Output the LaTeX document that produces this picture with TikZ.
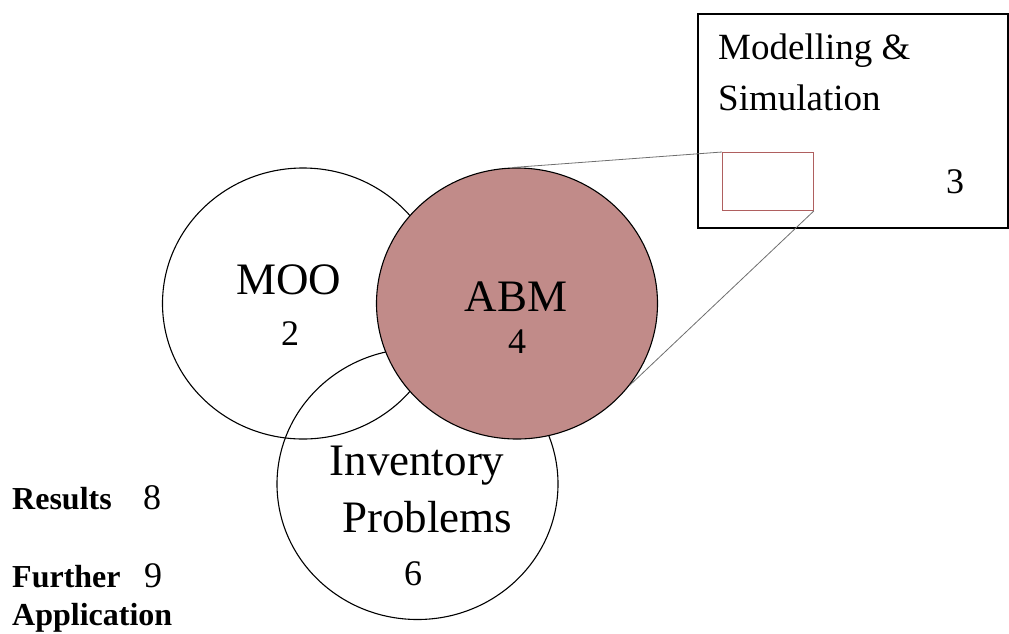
\documentclass[tikz,border=0pt]{standalone}
\usepackage{fontspec}
\setmainfont{Liberation Serif}
\usetikzlibrary{shapes.geometric}
\definecolor{abmfill}{RGB}{193,139,137}
\definecolor{zoomred}{RGB}{175,95,95}
\definecolor{zoomgray}{RGB}{110,110,110}
\tikzset{
  venn/.style={draw=black, ellipse, inner sep=0pt, minimum width=281pt, minimum height=271pt, line width=1.1pt},
  big/.style={font=\fontsize{45}{50}\selectfont, anchor=base, inner sep=0pt},
  num/.style={font=\fontsize{36}{40}\selectfont, anchor=base, inner sep=0pt},
  boxtxt/.style={font=\fontsize{37}{42}\selectfont, anchor=base west, inner sep=0pt},
  side/.style={font=\fontsize{32}{36}\selectfont\bfseries, anchor=base west, inner sep=0pt},
  zoomline/.style={draw=zoomgray, line width=0.8pt}
}
\begin{document}
\begin{tikzpicture}[x=1pt,y=-1pt]
\useasboundingbox (0,0) rectangle (1009,633);
% Modelling & Simulation box
\node[draw=black, line width=2pt, minimum width=310pt, minimum height=214pt, inner sep=0pt, anchor=north west] (ms) at (697,13) {};
\node[boxtxt] (mstxt1) at (718,59) {Modelling \&};
\node[boxtxt] (mstxt2) at (718,110) {Simulation};
\node[num, anchor=base] (msnum) at (955,193) {3};
\node[draw=zoomred, line width=0.9pt, minimum width=91pt, minimum height=58pt, inner sep=0pt, anchor=north west] (zr) at (722,152) {};
% Venn circles
\node[venn] (moo) at (303,303.5) {};
\node[venn] (inv) at (417.5,484) {};
\node[venn, fill=abmfill] (abm) at (517,303.5) {};
% zoom lines
\draw[zoomline] (abm.92) -- (zr.north west);
\draw[zoomline] (zr.south east) -- (abm.-36);
% labels
\node[big] (mootxt) at (289,294) {MOO};
\node[num] (moonum) at (290,345) {2};
\node[big] (abmtxt) at (516,311) {ABM};
\node[num] (abmnum) at (517,353) {4};
\node[big] (invtxt1) at (417,475) {Inventory};
\node[big] (invtxt2) at (427,532) {Problems};
\node[num] (invnum) at (413,585) {6};
% side labels
\node[side] (res) at (12,509) {Results};
\node[num] (resnum) at (152,509) {8};
\node[side] (fur) at (12,587) {Further};
\node[num] (furnum) at (153,587) {9};
\node[side] (app) at (12,625) {Application};
\end{tikzpicture}
\end{document}
